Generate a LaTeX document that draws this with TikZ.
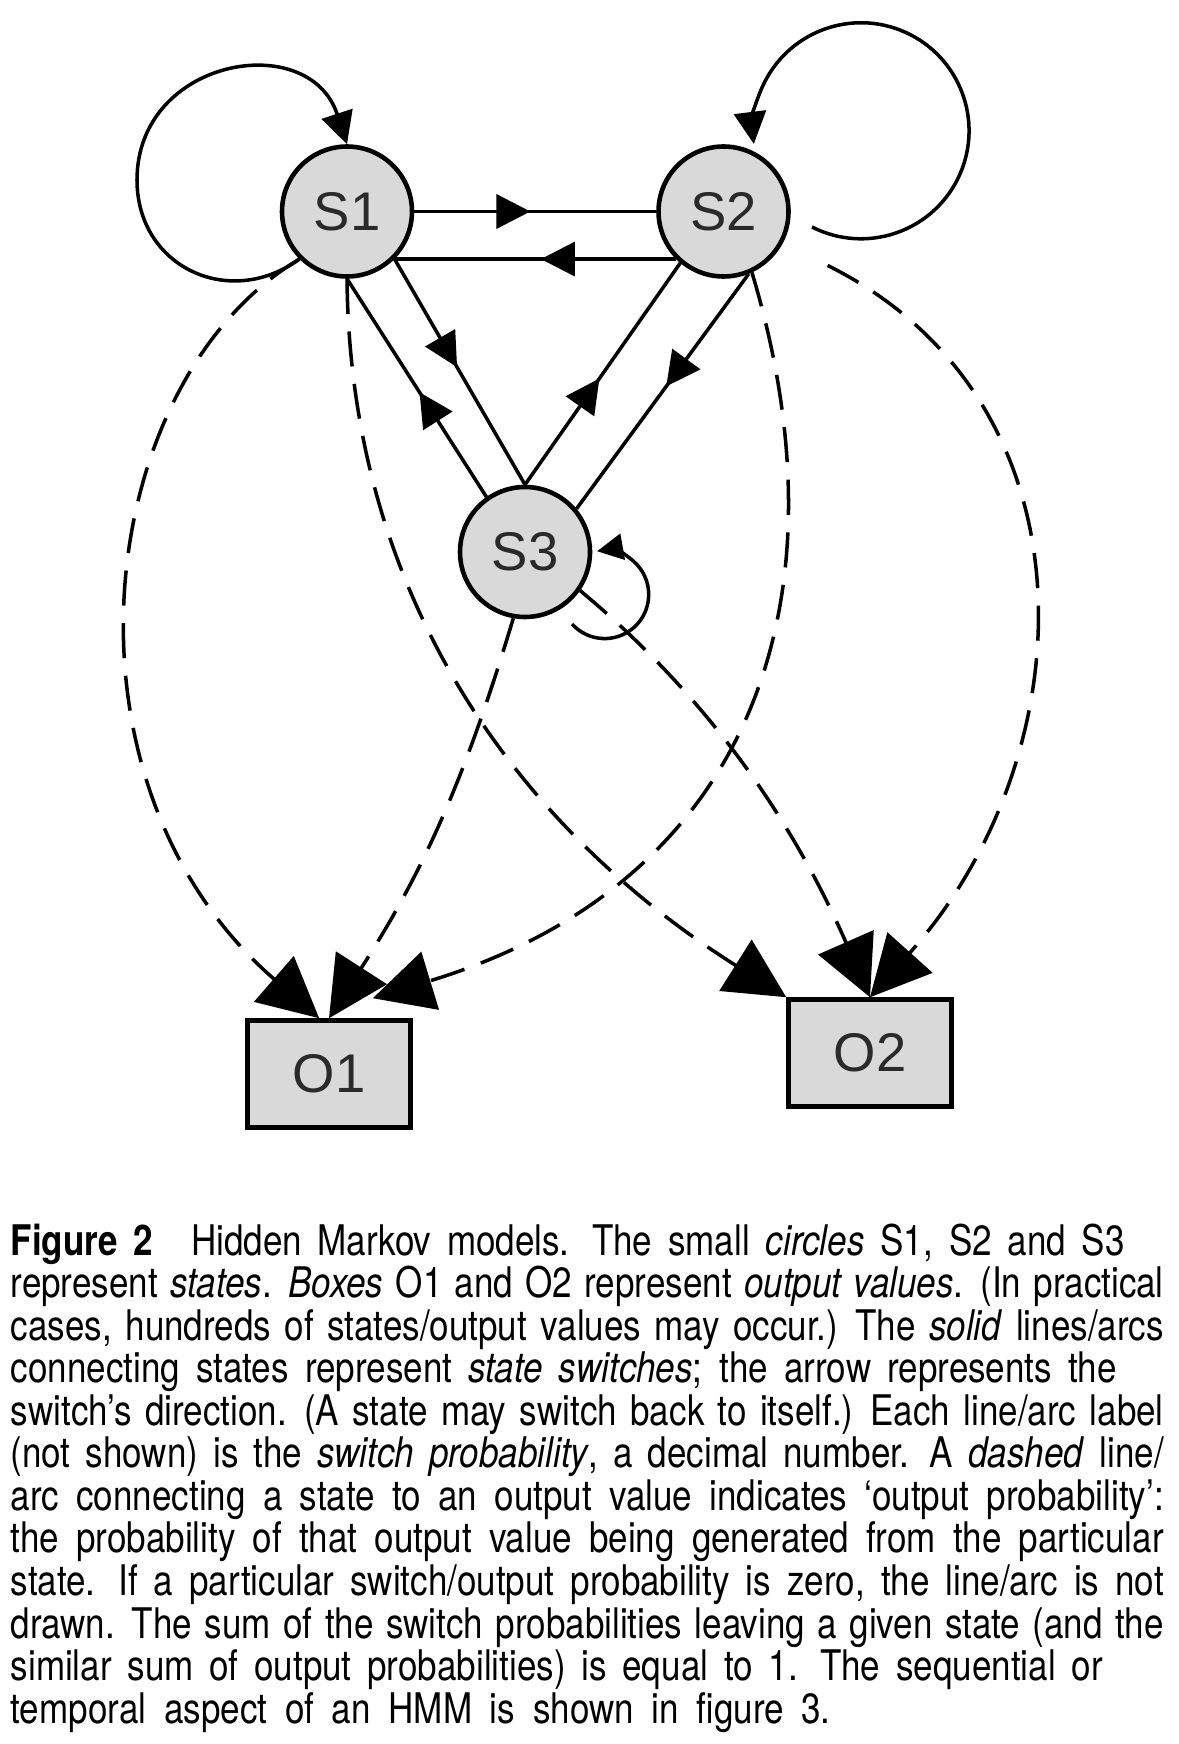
\documentclass[tikz,border=0pt]{standalone}
\usepackage{fontspec}
\setmainfont{TeX Gyre Heros}[FakeStretch=0.83, WordSpace=1.45]
\newfontfamily\statefont{Liberation Sans}
\usetikzlibrary{arrows.meta,decorations.markings}
\definecolor{cfill}{HTML}{D9D9D9}
\definecolor{cink}{HTML}{2A2A2A}

\begin{document}
\begin{tikzpicture}[line width=1pt,
  state/.style={circle, draw, line width=1.3pt, fill=cfill, minimum size=1.30cm, inner sep=0pt,
    font=\statefont\fontsize{15.5}{15.5}\selectfont, text=cink},
  outbox/.style={rectangle, draw, line width=1.3pt, fill=cfill, minimum width=1.63cm,
    minimum height=1.07cm, inner sep=0pt, font=\statefont\fontsize{15.5}{15.5}\selectfont, text=cink},
  trans/.style={postaction={decorate}, decoration={markings,
    mark=at position 0.48 with {\arrow{Triangle[length=3.4mm,width=3.4mm]}}}},
  selfloop/.style={-{Triangle[length=3.2mm,width=3.2mm]}},
  emit/.style={dash pattern=on 10pt off 5pt, -{Triangle[length=6mm,width=6mm]}},
  caption/.style={anchor=north west, inner sep=0pt, text width=11.53cm, align=justify,
    font=\fontsize{12}{12.1}\selectfont}]
  \useasboundingbox (0,0) rectangle (11.79,-17.44);
  % states and outputs
  \node[state] (S1) at (3.47,-2.115) {S1};
  \node[state] (S2) at (7.235,-2.115) {S2};
  \node[state] (S3) at (5.25,-5.52) {S3};
  \node[outbox] (O1) at (3.29,-10.74) {O1};
  \node[outbox] (O2) at (8.70,-10.53) {O2};
  % state switches
  \draw[trans] (S1.east) -- (S2.west);
  \draw[trans] (S2.225) -- (S1.-45);
  \draw[trans] (S1.-45) -- (S3.north);
  \draw[trans] (S3.125) -- (S1.south);
  \draw[trans] (S3.north) -- (S2.230);
  \draw[trans] (S2.-68) -- (S3.40);
  % switches back to itself
  \coordinate (s1left) at (1.37,-1.80);
  \coordinate (s2loop) at (8.12,-2.27);
  \coordinate (s3loop) at (5.72,-6.24);
  \draw[selfloop] (S1.225) .. controls +(-0.70,-0.51) and +(0,-0.87) .. (s1left)
    .. controls +(0,1.22) and +(-0.38,1.16) .. (S1.north);
  \draw[selfloop] (s2loop) arc[start angle=243, end angle=547, radius=1.08];
  \draw[-{Triangle[length=2.6mm,width=2.6mm]}] (s3loop) arc[start angle=222, end angle=460, radius=0.44];
  % output probabilities
  \draw[emit] (S1.225) .. controls +(-2.05,-1.22) and +(-2.73,2.37) .. (O1.100);
  \draw[emit] (S1.south) .. controls +(0.03,-3.22) and +(-2.65,1.67) .. (O2.north west);
  \draw[emit] (S2.-65) .. controls +(0.99,-3.29) and +(3.78,1.15) .. ([xshift=-4mm,yshift=2mm]O1.north east);
  \draw[emit,shorten <=5mm] (S2.-28) .. controls +(3.2,-1.6) and +(2.15,2.4) .. (O2.north);
  \draw[emit] (S3.-100) to[bend left=8] (O1.north);
  \draw[emit] (S3.-35) .. controls +(1.54,-1.28) and +(-0.61,1.39) .. (O2.north);
  % caption
  \node[caption] (cap) at (0.09,-12.22) {\tolerance=10000\hyphenpenalty=10000%
    \textbf{Figure 2}\hspace{0.9em}Hidden Markov models. The small \textit{circles} S1, S2 and S3\hspace*{0.39cm}\linebreak
    represent \textit{states}. \textit{Boxes} O1 and O2 represent \textit{output values}. (In practical\linebreak
    cases, hundreds of states/output values may occur.) The \textit{solid} lines/arcs\linebreak
    connecting states represent \textit{state switches}; the arrow represents the\hspace*{0.47cm}\linebreak
    switch's direction. (A state may switch back to itself.) Each line/arc label\linebreak
    (not shown) is the \textit{switch probability}, a decimal number. A \textit{dashed} line/\linebreak
    arc connecting a state to an output value indicates `output probability':\linebreak
    the probability of that output value being generated from the particular\linebreak
    state. If a particular switch/output probability is zero, the line/arc is not\linebreak
    drawn. The sum of the switch probabilities leaving a given state (and the\linebreak
    similar sum of output probabilities) is equal to 1. The sequential or\hspace*{0.61cm}\linebreak
    \makebox[8.20cm][s]{temporal aspect of an HMM is shown in figure 3.}};
\end{tikzpicture}
\end{document}
